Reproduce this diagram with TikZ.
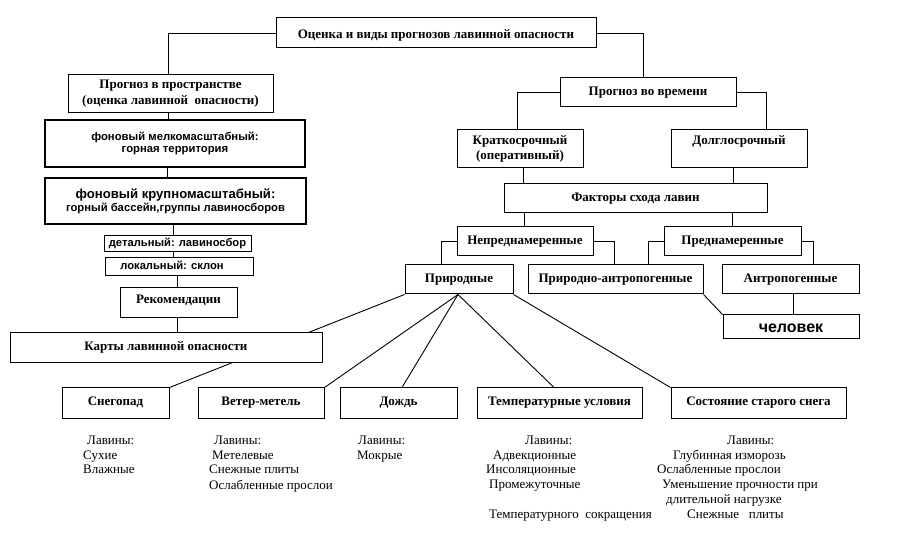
\documentclass[tikz,border=0pt]{standalone}
\usepackage{fontspec}
\setmainfont{Liberation Serif}
\setsansfont{Liberation Sans}
\usetikzlibrary{backgrounds,calc}
\begin{document}
\begin{tikzpicture}[x=1pt,y=-1pt,
  box/.style={draw, line width=1pt, fill=white, inner sep=0pt, align=center, font=\fontsize{13}{16}\selectfont\bfseries},
  sl/.style={text height=9pt, text depth=3pt},
  tbox/.style={box, line width=1.8pt},
  sbox/.style={box, sl, font=\fontsize{11.2}{14}\selectfont\sffamily\bfseries},
  wh/.style 2 args={minimum width=#1pt, minimum height=#2pt},
  con/.style={line width=0.9pt},
  lst/.style={anchor=west, inner sep=0pt, text height=9pt, text depth=3pt, font=\fontsize{13}{14}\selectfont}]
\useasboundingbox (0,0) rectangle (900,537);

% left branch
\node[box, sl, wh={320}{30}, text height=15pt] (title) at (436,33) {Оценка и виды прогнозов лавинной опасности};
\node[box, wh={205}{38}, yshift=-2pt] (prostr) at (170.5,92) {Прогноз в пространстве\\(оценка лавинной\ \ опасности)};
\node[tbox, wh={260}{47}, font=\fontsize{11.3}{12.5}\selectfont\sffamily\bfseries] (melko) at (175,143.5) {фоновый мелкомасштабный:\\горная территория};
\node[tbox, wh={261}{46}, font=\fontsize{13.1}{13}\selectfont\sffamily\bfseries] (krupno) at (175.5,201) {фоновый крупномасштабный:\\{\fontsize{11.25}{13}\selectfont горный бассейн,группы лавиносборов}};
\node[sbox, wh={147}{16}] (detal) at (177.5,244) {детальный: лавиносбор};
\node[sbox, wh={148}{18}] (lokal) at (179.5,267) {локальный: склон\hbox to 15pt{}};
\node[box, sl, wh={117}{30}, text depth=7pt] (rekom) at (178.5,302.5) {Рекомендации};

% right branch
\node[box, sl, wh={176}{29}] (vremya) at (648,92.5) {Прогноз во времени};
\node[box, wh={126}{38}, font=\fontsize{13}{15}\selectfont\bfseries] (kratko) at (520,149) {Краткосрочный\\(оперативный)};
\node[box, sl, wh={136}{38}, text depth=17pt] (dolgo) at (739,149) {Долглосрочный};
\node[box, sl, wh={263}{29}] (faktory) at (635.5,198.5) {Факторы схода лавин};
\node[box, sl, wh={136}{29}] (nepred) at (525,241.5) {Непреднамеренные};
\node[box, sl, wh={137}{29}] (pred) at (732.5,241.5) {Преднамеренные};
\node[box, sl, wh={108}{29}] (prirod) at (459,279.5) {Природные};
\node[box, sl, wh={175}{29}] (prant) at (615.5,279.5) {Природно-антропогенные};
\node[box, sl, wh={137}{29}] (antrop) at (790.5,279.5) {Антропогенные};
\node[box, wh={136}{24}, text height=12pt, text depth=1pt, font=\fontsize{16}{17}\selectfont\sffamily\bfseries] (chel) at (791,327) {человек};

% bottom row
\node[box, sl, wh={107}{30}] (sneg) at (115.5,403) {Снегопад};
\node[box, sl, wh={126}{30}] (veter) at (261,403) {Ветер-метель};
\node[box, sl, wh={117}{30}] (dozhd) at (398.5,403) {Дождь};
\node[box, sl, wh={165}{30}] (temp) at (559.5,403) {Температурные условия};
\node[box, sl, wh={175}{30}] (sost) at (758.5,403) {Состояние старого снега};

% map box drawn over the Снегопад line
\node[box, sl, wh={312}{30}] (karty) at (166,348) {Карты лавинной опасности};

\begin{scope}[on background layer]
\draw[con] (title.west) -| ([xshift=-2.5pt]prostr.north);
\draw[con] (title.east) -| ([xshift=-5pt]vremya.north);
\draw[con] ([xshift=-2.5pt]prostr.south) -- ([xshift=-2.5pt]prostr.south |- melko.north);
\draw[con] ([xshift=-8pt]melko.south) -- ([xshift=-8pt]melko.south |- krupno.north);
\draw[con] ([xshift=-4.5pt]detal.north |- krupno.south) -- ([xshift=-4.5pt]detal.north);
\draw[con] ([xshift=-4.5pt]detal.south) -- ([xshift=-4.5pt]detal.south |- lokal.north);
\draw[con] ([xshift=-2.5pt]lokal.south) -- ([xshift=-2.5pt]lokal.south |- rekom.north);
\draw[con] ([xshift=-1.5pt]rekom.south) -- ([xshift=-1.5pt]rekom.south |- karty.north);

\draw[con] (vremya.west) -| ([xshift=-3pt]kratko.north);
\draw[con] (vremya.east) -| ([xshift=27pt]dolgo.north);
\draw[con] ([xshift=3pt]kratko.south) -- ([xshift=3pt]kratko.south |- faktory.north);
\draw[con] ([xshift=-6pt]dolgo.south) -- ([xshift=-6pt]dolgo.south |- faktory.north);
\draw[con] ([xshift=-1pt]nepred.north |- faktory.south) -- ([xshift=-1pt]nepred.north);
\draw[con] (pred.north |- faktory.south) -- (pred.north);
\draw[con] (nepred.west) -| ([xshift=-18pt]prirod.north);
\draw[con] (nepred.east) -| ([xshift=-1.5pt]prant.north);
\draw[con] (pred.west) -| ([xshift=32.5pt]prant.north);
\draw[con] (pred.east) -| ([xshift=22.5pt]antrop.north);
\draw[con] (prant.south east) -- (chel.north west);
\draw[con] ([xshift=2.5pt]antrop.south) -- ([xshift=2.5pt]antrop.south |- chel.north);

\draw[con] (prirod.south west) -- (sneg.north east);
\draw[con] ([xshift=-1pt]prirod.south) -- (veter.north east);
\draw[con] ([xshift=-1pt]prirod.south) -- ([xshift=3.5pt]dozhd.north);
\draw[con] ([xshift=-1pt]prirod.south) -- ([xshift=-5.5pt]temp.north);
\draw[con] (prirod.south east) -- (sost.north west);
\end{scope}

% lists
\node[lst] (a1) at (87,441.5) {Лавины:};
\node[lst] (a2) at (83,456) {Сухие};
\node[lst] (a3) at (83,470) {Влажные};
\node[lst] (b1) at (214,441.5) {Лавины:};
\node[lst] (b2) at (212,456) {Метелевые};
\node[lst] (b3) at (209,470) {Снежные плиты};
\node[lst] (b4) at (209,486) {Ослабленные прослои};
\node[lst] (c1) at (358,441.5) {Лавины:};
\node[lst] (c2) at (357,456) {Мокрые};
\node[lst] (d1) at (525,441.5) {Лавины:};
\node[lst] (d2) at (493,456) {Адвекционные};
\node[lst] (d3) at (486,470.5) {Инсоляционные};
\node[lst] (d4) at (489,485.5) {Промежуточные};
\node[lst] (d5) at (489,515) {Температурного\ \ сокращения};
\node[lst] (e1) at (727,441.5) {Лавины:};
\node[lst] (e2) at (673,456) {Глубинная изморозь};
\node[lst] (e3) at (657,470.5) {Ослабленные прослои};
\node[lst] (e4) at (662,485.5) {Уменьшение прочности при};
\node[lst] (e5) at (666,500) {длительной нагрузке};
\node[lst] (e6) at (687,515) {Снежные\ \ \ плиты};
\end{tikzpicture}
\end{document}
